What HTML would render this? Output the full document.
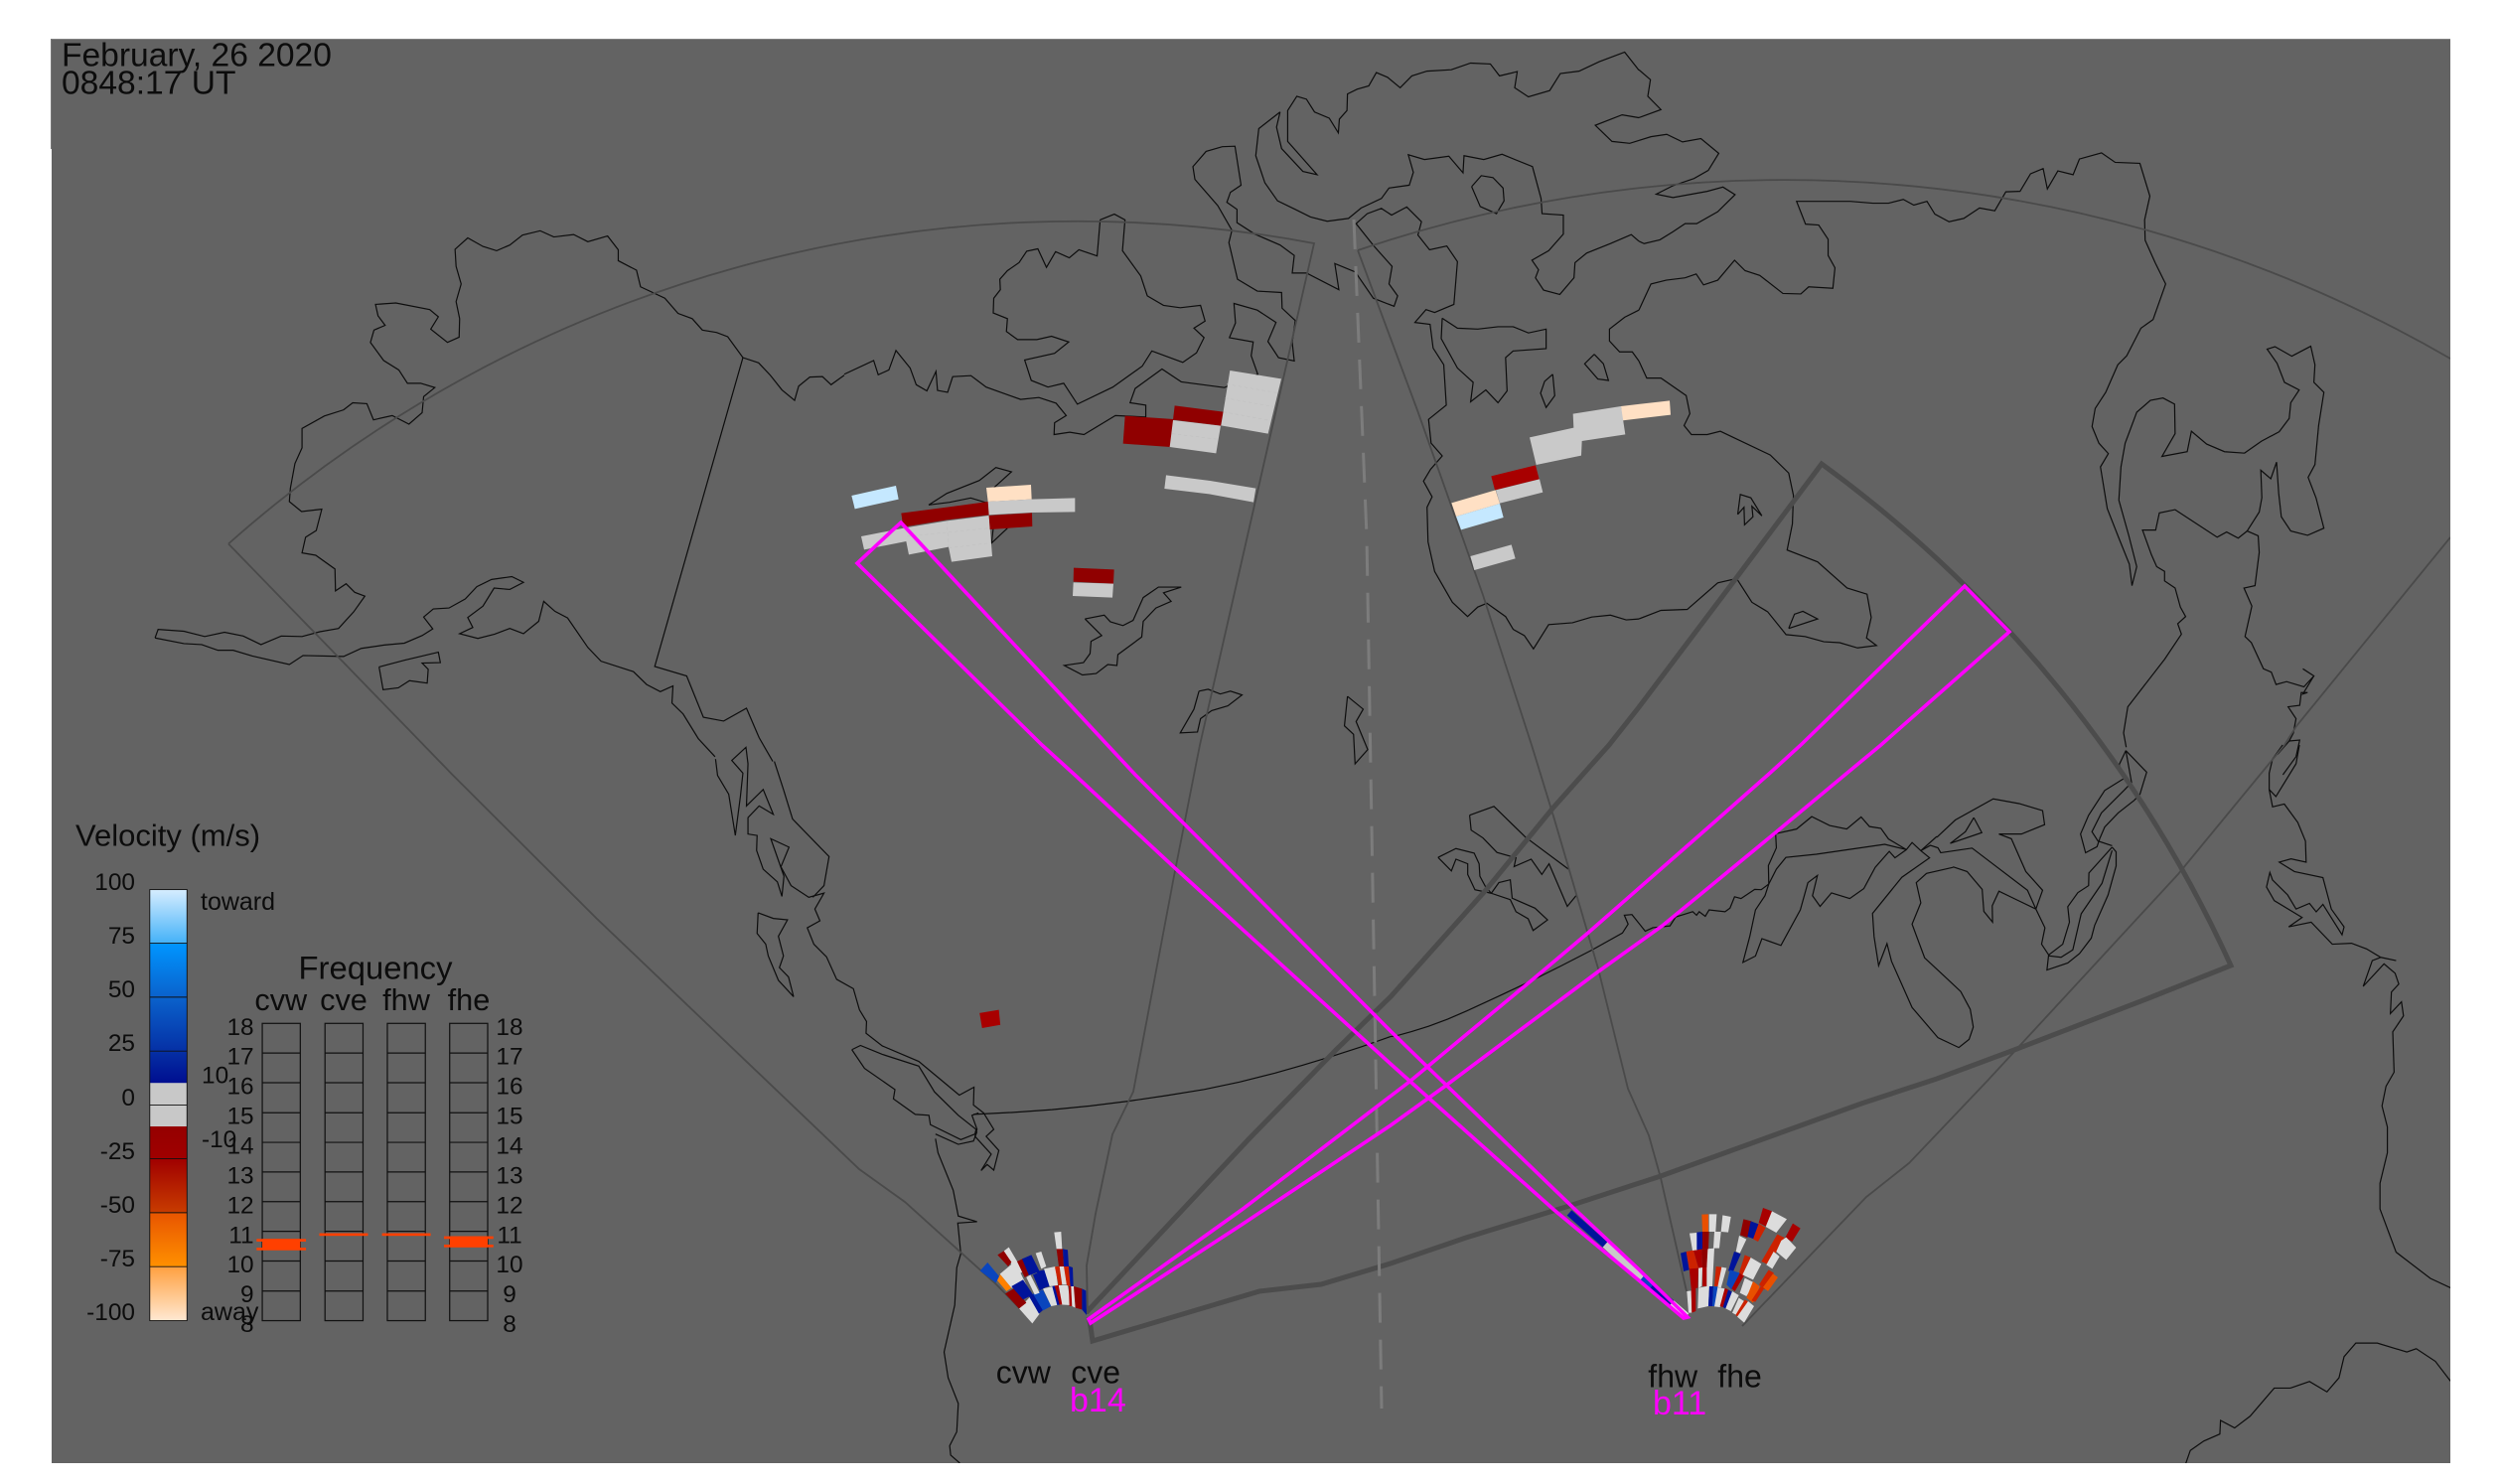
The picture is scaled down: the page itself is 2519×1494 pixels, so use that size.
<!DOCTYPE html>
<html>
<head>
<meta charset="utf-8">
<title>Velocity map</title>
<style>
html,body{margin:0;padding:0;background:#fff;}
svg{display:block;}
text{font-family:"Liberation Sans",sans-serif;fill:#0c0c0c;}
.c polyline{fill:none;stroke:#0d0d0d;stroke-width:1.2;stroke-linejoin:miter;vector-effect:non-scaling-stroke;}
.f polyline,.f path{fill:none;stroke:#4a4a4a;stroke-width:1.8;}
.t path{fill:none;stroke:#4c4c4c;stroke-width:5;}
.g{fill:#c9c9c9}.gl{fill:#dcdcdc}.r{fill:#900000}.r2{fill:#a80000}.o{fill:#cc2200}.or{fill:#e85000}.oo{fill:#ff8000}
.n{fill:#00149a}.b{fill:#0a45bd}.p{fill:#ffe0c4}.lb{fill:#c5e8ff}
.ln{font-size:24.4px;}
</style>
</head>
<body>
<svg width="2519" height="1494" viewBox="0 0 2519 1494" xmlns="http://www.w3.org/2000/svg">
<defs>
<clipPath id="pc"><rect x="52" y="39" width="2415" height="1434"/></clipPath>
<linearGradient id="cb" gradientUnits="userSpaceOnUse" x1="0" y1="302" x2="0" y2="1436">
<stop offset="0" stop-color="#d6edff"/>
<stop offset="0.124" stop-color="#45b2f8"/>
<stop offset="0.125" stop-color="#0095ff"/>
<stop offset="0.25" stop-color="#0a62cc"/>
<stop offset="0.375" stop-color="#0530a5"/>
<stop offset="0.448" stop-color="#000e90"/>
<stop offset="0.449" stop-color="#c8c8c8"/>
<stop offset="0.549" stop-color="#c8c8c8"/>
<stop offset="0.55" stop-color="#950000"/>
<stop offset="0.625" stop-color="#a00000"/>
<stop offset="0.749" stop-color="#c83c00"/>
<stop offset="0.75" stop-color="#e85500"/>
<stop offset="0.874" stop-color="#ff9000"/>
<stop offset="0.875" stop-color="#ffa040"/>
<stop offset="1" stop-color="#ffe8d2"/>
</linearGradient>
</defs>
<rect x="0" y="0" width="2519" height="1494" fill="#fff"/>
<rect x="52" y="39" width="2415" height="1434" fill="#636363"/>
<rect x="51" y="39" width="1" height="111" fill="#777"/>
<rect x="52" y="39" width="2415" height="1" fill="#808080"/>

<g clip-path="url(#pc)">
<!-- coastlines -->
<g class="c" transform="translate(50,30) scale(.5102,.4783)">
<polyline points="208,1280 214,1262 265,1266 306,1277 345,1268 382,1276 417,1294 457,1276 498,1277 533,1267 570,1260 600,1225 622,1192 602,1184 585,1166 564,1181 563,1135 525,1106 498,1101 505,1068 526,1054 537,1009 497,1014 473,993 475,965 484,913 498,880 498,839 542,813 580,800 598,785 626,787 639,821 676,812 709,830 735,806 738,772 760,753 732,744 706,744 689,716 659,696 633,658 640,632 662,622 648,602 643,578 683,575 750,589 767,604 752,630 785,658 808,647 809,608 802,572 812,535 802,498 800,462 825,438 855,456 882,465 908,453 933,432 968,423 995,436 1034,431 1062,446 1101,434 1122,463 1122,486 1158,506 1166,541 1214,565 1240,597 1268,608 1288,632 1316,637 1338,646 1368,690 1399,701 1422,727 1445,758 1470,780 1478,750 1500,731 1525,730 1542,747 1568,727"/>
<polyline points="208,1280 265,1292 300,1294 332,1306 362,1306 400,1318 473,1336 500,1317 580,1319 615,1302 660,1295 700,1291 735,1275 756,1261 738,1236 757,1219 788,1217 820,1198 843,1172 872,1157 912,1151 935,1163 908,1178 877,1175 855,1213 825,1237 835,1258 809,1271 845,1281 878,1272 908,1260 935,1271 965,1245 975,1203 997,1224 1022,1238 1062,1300 1088,1329 1152,1351 1178,1378 1205,1393 1230,1381 1228,1417 1250,1440 1280,1492 1313,1530"/>
<polyline points="650,1341 700,1327 767,1310 771,1332 735,1333 747,1346 745,1375 710,1370 688,1385 658,1389 650,1341"/>
<polyline points="1368,690 1194,1340 1257,1360 1290,1447 1330,1455 1375,1428 1400,1490 1427,1540"/>
</g>
<g class="c" transform="translate(850,30) scale(.5102,.4783)">
<polyline points="0,725 58,696 67,726 88,716 102,675 130,712 142,747 163,760 181,719 184,759 204,763 214,730 250,728 280,752 348,778 384,774 418,786 438,812 415,827 414,852 445,847 473,852 535,812 595,815 595,790 564,785 574,755 627,714 665,741 750,753 816,725 803,686 807,657 760,648 772,617 769,576 815,590 852,616 836,656 857,690 888,697 884,658 890,612 864,586 863,553 815,550 776,525 759,448 765,422 737,370 692,315 688,288 714,256 746,246 771,245 783,327 762,342 755,363 775,378 775,406 810,430 860,453 888,475 884,512 912,512 976,547 968,492 1009,510 1015,520 1044,565 1085,582 1092,560 1075,535 1081,498 1045,455 1010,408 1032,387 1060,376 1080,390 1110,373 1139,404 1132,432 1155,463 1189,455 1210,488 1203,578 1165,595 1148,589 1126,616 1156,620 1162,670 1183,705 1188,790 1153,820 1158,870 1180,897 1157,925 1143,950 1160,983 1150,1005 1152,1078 1165,1140 1200,1205 1230,1235 1250,1215 1268,1207 1305,1235 1320,1262 1342,1275 1360,1303 1390,1252 1437,1248 1475,1236 1512,1232 1543,1242 1568,1240"/>
<polyline points="505,400 533,388 554,400 549,465 585,518 598,560 630,580 663,585 703,580 712,613 690,628 710,648 695,680 668,700 607,676 588,708 530,752 460,788 433,744 402,752 369,738 356,695 415,681 443,657 409,645 380,652 342,652 320,635 322,608 294,596 295,565 308,547 307,525 322,507 345,490 360,466 382,461 399,500 417,467 444,480 463,463 499,476 505,400"/>
<polyline points="860,173 818,208 812,265 830,322 855,360 890,378 920,394 953,403 995,397 1020,375 1060,355 1075,333 1115,327 1123,300 1113,263 1145,273 1193,266 1221,301 1223,265 1262,273 1298,262 1358,288 1375,355 1377,387 1419,390 1419,430 1390,465 1357,485 1370,505 1364,522 1380,548 1412,557 1440,522 1442,490 1465,470 1512,450 1553,431 1568,445"/>
<polyline points="860,173 853,205 863,250 905,298 933,305 875,235 875,170 893,140 912,146 928,173 957,186 975,217 977,188 992,170 993,135 1012,125 1035,118 1050,90 1072,100 1097,122 1120,97 1150,87 1198,84 1236,70 1275,72 1293,97 1328,88 1323,122 1350,141 1392,128 1413,92 1450,87 1490,67 1540,47 1568,85"/>
<polyline points="1568,185 1535,179 1482,201 1515,235 1550,239 1568,233"/>
<polyline points="1238,330 1257,307 1280,311 1300,333 1302,360 1287,387 1255,372 1238,330"/>
<polyline points="1180,607 1210,628 1250,630 1290,625 1320,625 1350,638 1385,630 1385,671 1320,676 1305,690 1308,760 1290,785 1266,758 1236,783 1241,742 1210,712 1178,650 1180,607"/>
<polyline points="1398,725 1402,770 1385,795 1374,765 1382,740 1398,725"/>
<polyline points="1480,683 1498,703 1508,738 1487,735 1461,703 1480,683"/>
<polyline points="1568,590 1540,605 1510,630 1510,655 1530,678 1555,678 1568,697"/>
<polyline points="475,1240 513,1232 525,1246 550,1254 570,1243 590,1195 620,1173 665,1173 630,1185 645,1203 615,1217 590,1245 587,1278 540,1315 538,1338 520,1336 497,1355 470,1358 434,1338 472,1332 485,1313 487,1287 508,1275 475,1240"/>
<polyline points="700,1392 718,1388 742,1398 762,1392 785,1400 757,1423 725,1433 703,1450 697,1478 663,1480 690,1430 700,1392"/>
<polyline points="993,1403 1024,1430 1010,1456 1033,1515 1008,1545 1005,1483 987,1465 993,1403"/>
</g>
<g class="c" transform="translate(820,340) scale(.33333)">
<polyline points="345,505 400,470 498,431 548,392 595,405 545,450 525,470"/>
<polyline points="345,505 408,497 472,484 525,500"/>
<polyline points="583,575 535,620 540,575"/>
</g>
<g class="c" transform="translate(1650,30) scale(.5293,.4783)">
<polyline points="0,1240 42,1222 92,1220 150,1164 186,1155 215,1205 245,1225 280,1273 316,1277 352,1288 382,1290 416,1301 452,1296 433,1280 442,1237 434,1188 396,1175 340,1120 282,1095 292,1040 294,980 285,933 250,895 155,845 130,852 100,852 86,833 97,808 90,770 42,733 15,733 0,697"/>
<polyline points="0,590 23,535 52,527 88,522 109,514 123,537 150,527 182,485 202,507 230,517 274,555 308,556 323,541 369,544 373,501 360,475 360,441 342,411 317,409 300,361 402,361 445,365 475,365 503,357 523,369 548,361 563,388 590,404 618,397 648,375 677,381 698,341 725,340 745,303 769,292 777,335 797,297 826,305 838,272 880,259 906,279 953,281 972,350 962,400 963,443 982,490 1002,535 978,610 955,628 928,686 911,705 888,763 868,797 862,835 875,870 893,892 878,920 891,1008 913,1070 933,1125 938,1170 947,1130 932,1065 913,990 917,920 925,870 947,805 973,780 997,775 1019,788 1020,850 995,898 1043,888 1051,845 1080,872 1114,888 1152,891 1184,866 1218,846 1237,818 1240,785 1256,758 1228,742 1214,702 1195,672 1210,667 1242,687 1278,666 1286,705 1284,742 1303,763 1293,833 1286,915 1273,942 1288,985 1303,1049 1272,1064 1240,1055 1222,1025 1217,975 1213,910 1202,945 1183,927 1185,985 1180,1015 1157,1055 1178,1065 1180,1100 1172,1170 1151,1175 1166,1213 1153,1277 1165,1290 1188,1345 1203,1352 1212,1378 1232,1372 1265,1383 1284,1360 1263,1345"/>
<polyline points="1284,1360 1263,1398 1272,1395 1260,1395 1257,1422 1235,1425 1250,1450 1245,1480 1237,1497 1215,1525"/>
<polyline points="1237,1497 1257,1495 1250,1530 1225,1568"/>
<polyline points="1157,1055 1140,1070 1118,1057 1100,1068 1020,1010 990,1017 983,1053 958,1053 975,1105 985,1130 1000,1140 1000,1160 1020,1175 1030,1215 1040,1235 1025,1250 1032,1272 1000,1325 930,1425 922,1480 927,1510"/>
<polyline points="188,1020 193,978 213,985 234,1023 215,1003 217,1025 201,1042 200,1005 188,1020"/>
<polyline points="285,1260 296,1230 312,1224 340,1240 285,1260"/>
<polyline points="0,84 22,105 17,140 42,168 0,185"/>
<polyline points="0,233 23,225 53,220 83,236 118,229 152,260 132,296 105,313 65,328 33,346 65,353 130,340 160,331 183,347 150,383 110,408 88,408 65,425 40,442 10,450 0,445"/>
</g>
<g class="c" transform="translate(600,750) scale(.5102,.4719)">
<polyline points="236,30 240,65 262,105 275,193 285,110 290,60 268,33 296,5 300,40 297,130 330,95 350,148 322,130 300,155 300,190 318,193 317,225 330,265 358,292 367,323 371,280 345,200 381,218 365,260 385,300 420,325 450,316 432,350 442,375 417,390 430,425 455,452 475,500 508,520 520,565 534,590 533,615 565,642 637,675 717,747 746,730 745,768 765,785 785,820 770,835 795,865 785,907 772,895 760,908 780,873 748,835 752,820 742,790 755,785"/>
<polyline points="352,35 370,95 388,158 460,238 450,300 428,325"/>
<polyline points="320,358 350,370 378,373 360,408 370,450 362,475 380,495 390,537 360,502 340,450 335,425 318,402 320,358"/>
<polyline points="505,650 522,641 565,660 637,685 668,740 715,790 750,820 748,830 720,842 660,810 657,790 630,788 587,755 590,735 530,690 505,650"/>
<polyline points="670,830 715,852 745,845 752,825"/>
<polyline points="670,840 675,870 705,950 715,1005 752,1017 714,1020 720,1085 712,1115 708,1195 687,1295 695,1350 715,1405 712,1465 698,1495 700,1515 718,1532"/>
<polyline points="745,788 820,784 900,778 975,770 1050,760 1125,748 1200,735 1270,719 1340,700 1395,683 1450,665 1510,644 1568,622"/>
</g>
<g class="c" transform="translate(1400,750) scale(.3827,.3571)">
<polyline points="0,822 15,820 55,808 100,793 150,773 200,750 285,708 370,665 450,622 530,578 610,530 625,505 615,480 635,478 670,525 690,515 735,510 750,485 795,470 805,480 812,470 828,483 838,465 880,470 893,460 905,428 922,433 958,407 975,408 995,392 1015,350 1040,317 1120,308 1300,280 1357,295"/>
<polyline points="1013,250 1068,237 1108,202 1155,227 1200,237 1238,203 1260,230 1290,235 1310,265 1357,295 1372,275 1395,298 1418,318 1345,373 1268,475 1272,540 1284,622 1306,560 1318,610 1372,740 1440,825 1495,853 1522,830 1533,795 1525,745 1500,695 1455,650 1405,600 1372,505 1395,445 1383,388 1410,362 1480,345"/>
<polyline points="1013,250 1015,290 994,340 995,392 985,425 960,465 945,540 927,613 960,595 977,546 1027,565 1078,465 1098,388 1123,368 1110,425 1130,455 1160,417 1208,433 1245,405 1275,345 1312,300 1327,318 1357,295"/>
<polyline points="1395,298 1437,258"/>
<polyline points="1395,298 1420,283 1440,290 1447,303"/>
<polyline points="208,198 272,173 355,260 468,350"/>
<polyline points="208,198 212,240 243,262 280,303 330,318 325,343 370,322 398,365 417,335 465,455 488,425"/>
<polyline points="125,317 172,292 220,305 233,335 235,370 250,400 265,418 315,436 330,470 362,490 375,523 413,493 380,460 320,432 315,380 285,388 265,418 222,408 203,365 203,335 172,322 160,355 125,317"/>
</g>
<g class="c" transform="translate(1950,750) scale(.338,.4719)">
<polyline points="0,197 55,160 168,115 245,125 315,140 321,170 252,190 185,190 222,200 265,270 315,310 295,350 185,312 165,343 166,378 140,355 135,308 90,270 48,260"/>
<polyline points="110,155 134,187 40,210 85,185 110,155"/>
<polyline points="10,230 105,220 270,310 295,350 322,390 312,425 335,450 370,453 405,437 430,360 492,295 522,225"/>
<polyline points="563,12 580,80 560,95 490,145 462,185 480,205 522,215"/>
<polyline points="563,12 543,42 556,72 500,97 452,150 428,190 443,230 477,217 485,200"/>
<polyline points="563,12 625,58 605,105 588,118 540,145 500,175 485,200"/>
<polyline points="522,218 453,273 452,300 420,315 390,345 395,378 375,425 333,448 328,480 390,465 425,445 460,412 470,385 510,320 534,258 534,228 522,218"/>
<polyline points="1080,0 1070,40 1010,110 990,95 990,60 1000,30 1030,0"/>
<polyline points="990,95 1000,132 1035,126 1075,165 1098,205 1100,250 1055,243 1020,250 1065,270 1150,283 1175,350 1213,388 1207,405 1150,340 1130,356 1110,338 1070,350 1045,320 1000,288 992,272 982,303 1005,332 1088,368 1048,388 1115,378 1178,425 1235,423 1280,435 1322,453 1368,460"/>
<polyline points="1322,453 1297,460 1270,515 1332,467 1365,487 1376,510 1354,527 1351,573 1384,548 1390,578 1358,612 1362,698 1338,728 1326,770 1342,815 1342,870 1320,935 1320,990 1368,1082 1470,1138 1530,1158"/>
<polyline points="738,1540 755,1505 795,1485 843,1470 845,1441 887,1457 933,1432 1005,1372 1053,1372 1110,1358 1162,1380 1198,1350 1213,1305 1248,1276 1312,1276 1400,1295 1428,1288 1485,1315 1530,1357"/>
</g>

<!-- thin fields of view -->
<g class="f">
<path d="M230,547.5 A1287,1287 0 0 1 1323,245 L1208,750 1182,882 1141,1099 1120,1142 1103,1222 1094,1274 1095,1323"/>
<polyline points="230,547.5 455.6,780 600,924 865,1177 911,1210 1003,1293 1040,1331"/>
<path d="M1367,252 A1339,1339 0 0 1 2467,361"/>
<polyline points="1367,252 1427,413 1493,599 1542,750 1565,825 1609,975 1639,1096 1660,1143 1672,1186 1698,1300"/>
<polyline points="1754,1335 1879,1205 1922,1171 2000,1089 2193,880 2300,750 2312,731 2467,541"/>
</g>
<!-- thick field of view -->
<g class="t">
<path d="M1094,1321 L1258,1146 1345,1057 1400,1003.5 1496,896 1563,814 1620,750 1650,712 1748,582 1834,467 A1283,1283 0 0 1 2246,972 L2163,1005 2028,1057 1950,1086 1874,1111 1672,1184 1580,1214 1476,1246 1400,1272 1330,1293 1268,1300 1100,1350 1097.6,1333 1096,1326"/>
</g>
<!-- dashed centre line -->
<polyline points="1363,221 1376,540 1391,1418" fill="none" stroke="#7c7c7c" stroke-width="3" stroke-dasharray="30 17"/>

<!-- data patches -->
<g transform="translate(820,340) scale(.33333)">
<polygon class="lb" points="112,477 246,447 254,488 122,517"/>
<polygon class="g" points="141,600 270,575 400,553 527,537 537,660 414,677 405,632 285,655 277,615 150,640"/>
<polygon class="r" points="262,530 400,512 525,495 527,535 400,550 268,572"/>
<polygon class="p" points="519,453 654,444 656,488 524,495"/>
<polygon class="g" points="524,495 655,488 787,484 787,526 657,528 527,535"/>
<polygon class="r" points="527,537 657,529 658,570 530,579"/>
<polygon class="r" points="783,695 905,700 903,743 782,737"/>
<polygon class="g" points="782,739 903,743 900,785 780,780"/>
<polygon class="g" points="1062,415 1195,432 1333,455 1326,497 1192,472 1057,456"/>
<polygon class="r" points="938,236 1085,246 1074,330 932,320"/>
<polygon class="r" points="1088,205 1235,224 1227,266 1083,248"/>
<polygon class="g" points="1083,249 1227,266 1213,349 1073,330"/>
<polygon class="g" points="1255,99 1410,124 1370,290 1228,265"/>
<g fill="none" stroke="#bcbcbc" stroke-width="1.2" stroke-dasharray="10 8">
<polyline points="1245,140 1396,166"/><polyline points="1240,182 1385,208"/><polyline points="1235,224 1375,250"/><polyline points="1080,290 1220,307"/><polyline points="280,600 530,575"/><polyline points="405,635 530,620"/><polyline points="400,553 405,632"/>
</g>
</g>
<g transform="translate(1420,380) scale(.33333)">
<polygon class="p" points="636,87 783,70 786,113 640,130"/>
<polygon class="g" points="491,110 636,87 649,172 518,192 516,236 380,264 360,181 493,152"/>
<polygon class="r2" points="244,298 378,265 389,307 255,340"/>
<polygon class="g" points="258,340 390,307 400,347 270,380"/>
<polygon class="p" points="124,379 257,340 270,381 138,420"/>
<polygon class="lb" points="138,420 270,381 281,423 153,460"/>
<polygon class="g" points="181,540 305,505 317,547 193,582"/>
</g>
<g transform="translate(600,750) scale(.5102,.4719)">
<polygon class="r2" points="757,572 795,565 798,597 762,604"/>
</g>

<!-- cvw / cve fan -->
<g transform="translate(950,1180) scale(.33333)">
<polygon class="gl" points="268,457 228,412 260,378 290,428"/>
<polygon class="n" points="258,375 272,368 302,415 288,428"/>
<polygon class="b" points="270,368 300,355 325,405 300,418"/>
<polygon class="gl" points="300,352 330,345 350,400 325,405"/>
<polygon class="n" points="328,345 340,342 352,400 343,402"/>
<polygon class="gl" points="340,342 375,342 385,402 352,400"/>
<polygon class="r2" points="335,342 347,340 358,400 350,400"/>
<polygon class="r2" points="378,345 385,345 388,405 380,405"/>
<polygon class="gl" points="385,345 395,345 398,410 388,405"/>
<polygon class="r" points="393,345 418,352 418,415 398,410"/>
<polygon class="n" points="418,352 430,358 432,432 418,415"/>
<polygon class="r" points="186,367 215,350 250,395 228,412"/>
<polygon class="gl" points="170,308 215,270 250,340 205,350"/>
<polygon class="n" points="205,345 240,325 270,370 240,385"/>
<polygon class="oo" points="158,322 172,310 205,350 190,360"/>
<polygon class="b" points="110,298 133,273 168,315 158,335"/>
<polygon class="gl" points="180,240 197,227 240,300 225,310"/>
<polygon class="r" points="163,250 182,238 205,272 195,285"/>
<polygon class="r" points="222,270 238,262 258,310 245,318"/>
<polygon class="n" points="237,262 265,250 290,300 258,312"/>
<polygon class="gl" points="278,245 295,240 310,285 295,292"/>
<polygon class="gl" points="250,318 262,310 290,365 275,370"/>
<polygon class="n" points="270,310 282,305 305,350 290,358"/>
<polygon class="n" points="280,300 305,295 320,345 302,350"/>
<polygon class="gl" points="303,292 338,285 345,342 320,345"/>
<polygon class="o" points="336,286 350,284 358,340 347,342"/>
<polygon class="gl" points="350,284 365,284 372,340 358,340"/>
<polygon class="o" points="363,284 378,284 383,345 372,342"/>
<polygon class="n" points="378,284 390,288 392,345 383,345"/>
<polygon class="r" points="341,232 360,232 363,285 348,285"/>
<polygon class="n" points="360,232 375,235 378,285 363,285"/>
<polygon class="gl" points="334,182 355,180 358,232 341,232"/>
</g>

<!-- fhw / fhe fan -->
<g transform="translate(1650,1180) scale(.33333)">
<polygon class="gl" points="145,360 158,358 160,425 150,425"/>
<polygon class="r2" points="158,352 172,350 172,420 160,425"/>
<polygon class="gl" points="180,350 213,343 210,405 178,412"/>
<polygon class="n" points="213,343 225,345 222,405 210,405"/>
<polygon class="b" points="225,345 238,347 232,405 222,405"/>
<polygon class="gl" points="238,348 260,352 245,408 228,406"/>
<polygon class="r2" points="260,350 270,355 255,408 245,405"/>
<polygon class="n" points="270,355 282,362 262,412 254,408"/>
<polygon class="gl" points="282,360 302,372 278,420 262,412"/>
<polygon class="gl" points="302,380 318,390 295,432 282,425"/>
<polygon class="o" points="320,385 332,392 300,437 292,432"/>
<polygon class="gl" points="330,390 348,405 318,455 297,437"/>
<polygon class="r2" points="152,290 180,290 178,350 158,352"/>
<polygon class="gl" points="180,288 192,288 190,345 180,350"/>
<polygon class="r2" points="192,288 205,288 205,345 192,345"/>
<polygon class="gl" points="205,232 228,230 222,345 205,345"/>
<polygon class="n" points="126,245 143,240 152,295 135,300"/>
<polygon class="o" points="143,240 165,236 180,290 152,292"/>
<polygon class="r2" points="165,236 190,232 192,288 180,290"/>
<polygon class="r" points="190,232 208,232 205,288 192,288"/>
<polygon class="gl" points="153,185 175,183 177,235 162,237"/>
<polygon class="n" points="175,182 192,180 192,232 175,235"/>
<polygon class="r" points="192,180 212,180 210,232 192,232"/>
<polygon class="gl" points="228,180 248,180 243,230 225,230"/>
<polygon class="or" points="190,128 210,127 210,180 192,180"/>
<polygon class="gl" points="212,127 235,127 232,180 212,180"/>
<polygon class="gl" points="253,130 278,135 270,182 248,180"/>
<polygon class="o" points="233,285 250,287 240,345 228,345"/>
<polygon class="gl" points="250,287 265,290 248,350 238,347"/>
<polygon class="n" points="288,240 308,247 285,300 270,298"/>
<polygon class="b" points="275,295 305,305 280,355 265,340"/>
<polygon class="r2" points="305,305 318,312 290,360 280,352"/>
<polygon class="gl" points="303,192 325,203 305,245 293,240"/>
<polygon class="r" points="316,142 340,148 328,198 306,190"/>
<polygon class="n" points="338,148 362,157 348,202 328,195"/>
<polygon class="o" points="362,155 383,168 360,210 345,202"/>
<polygon class="r2" points="375,108 402,118 385,165 362,153"/>
<polygon class="gl" points="402,118 447,142 415,183 383,165"/>
<polygon class="o" points="320,250 338,258 313,312 303,303"/>
<polygon class="gl" points="338,258 370,277 345,325 313,310"/>
<polygon class="gl" points="320,320 350,335 325,375 305,365"/>
<polygon class="or" points="345,330 365,345 345,395 325,380"/>
<polygon class="o" points="368,345 378,352 352,392 340,388"/>
<polygon class="o" points="392,295 408,305 380,355 363,340"/>
<polygon class="or" points="405,307 420,318 390,360 375,348"/>
<polygon class="o" points="418,188 440,198 393,280 370,270"/>
<polygon class="r2" points="465,155 488,170 463,210 442,198"/>
<polygon class="gl" points="430,207 445,197 475,228 445,265 415,240"/>
<polygon class="gl" points="407,240 425,255 403,292 385,280"/>
</g>

<!-- beam data strip -->
<polyline points="1580,1221 1616,1253" fill="none" stroke="#00149a" stroke-width="7"/>
<polyline points="1616,1253 1653,1287" fill="none" stroke="#c9c9c9" stroke-width="7"/>
<polyline points="1653,1287 1663,1295" fill="none" stroke="#0a45bd" stroke-width="7"/>
<polyline points="1663,1295 1683,1312" fill="none" stroke="#00149a" stroke-width="7"/>
<polyline points="1683,1312 1698,1325" fill="none" stroke="#dcdcdc" stroke-width="7"/>

<!-- magenta beams -->
<polygon points="907,526 1115,750 1143,780 1400,1038 1436,1073 1582,1214 1650,1278 1699,1326 1695,1327 1650,1289 1564.6,1218 1438,1105 1400,1071 1181.6,872.7 1082,780 1049,750 863,567" fill="none" stroke="#ff00ff" stroke-width="3.6"/>
<polygon points="1978,590 1813,750 1780,780 1725,828.5 1599,939 1543.5,985.7 1419,1089 1400,1103.5 1250,1218 1096,1328 1098,1332 1250,1233 1400,1133 1455.5,1093 1608.6,978.5 1673.6,932 1788.4,837.5 1857.5,780 1893.7,750 2023,636" fill="none" stroke="#ff00ff" stroke-width="3.6"/>
</g>

<!-- title -->
<text x="62" y="66.7" font-size="33.6">February, 26 2020</text>
<text x="62" y="94.7" font-size="33.6">0848:17 UT</text>

<!-- velocity legend -->
<text x="76" y="851.5" font-size="31">Velocity (m/s)</text>
<g transform="translate(0,780) scale(.3827)">
<rect x="394" y="302" width="98" height="1134" fill="url(#cb)" stroke="#111" stroke-width="2.4"/>
<g stroke="#111" stroke-width="2.4">
<line x1="394" y1="443" x2="492" y2="443"/><line x1="394" y1="585" x2="492" y2="585"/><line x1="394" y1="727" x2="492" y2="727"/><line x1="394" y1="869" x2="492" y2="869"/><line x1="394" y1="1010" x2="492" y2="1010"/><line x1="394" y1="1152" x2="492" y2="1152"/><line x1="394" y1="1294" x2="492" y2="1294"/>
</g>
<!-- frequency boxes -->
<g fill="none" stroke="#111" stroke-width="3.2">
<rect x="690" y="654" width="100" height="782"/><rect x="855" y="654" width="100" height="782"/><rect x="1019" y="654" width="100" height="782"/><rect x="1183" y="654" width="100" height="782"/>
<path d="M690 732H790M855 732H955M1019 732H1119M1183 732H1283M690 810H790M855 810H955M1019 810H1119M1183 810H1283M690 889H790M855 889H955M1019 889H1119M1183 889H1283M690 967H790M855 967H955M1019 967H1119M1183 967H1283M690 1045H790M855 1045H955M1019 1045H1119M1183 1045H1283M690 1123H790M855 1123H955M1019 1123H1119M1183 1123H1283M690 1201H790M855 1201H955M1019 1201H1119M1183 1201H1283M690 1279H790M855 1279H955M1019 1279H1119M1183 1279H1283M690 1358H790M855 1358H955M1019 1358H1119M1183 1358H1283"/>
</g>
<g fill="#ff4000">
<rect x="690" y="1221" width="100" height="29"/><rect x="675" y="1221" width="130" height="7"/><rect x="675" y="1244" width="130" height="7"/>
<rect x="840" y="1206" width="128" height="7"/>
<rect x="1005" y="1206" width="128" height="7"/>
<rect x="1183" y="1214" width="100" height="29"/><rect x="1168" y="1214" width="130" height="7"/><rect x="1168" y="1236" width="130" height="7"/>
</g>
</g>
<g class="ln" text-anchor="end">
<text x="136" y="896">100</text><text x="136" y="950">75</text><text x="136" y="1004">50</text><text x="136" y="1058">25</text><text x="136" y="1113">0</text><text x="136" y="1167">-25</text><text x="136" y="1221">-50</text><text x="136" y="1275">-75</text><text x="136" y="1329">-100</text>
</g>
<text x="202" y="916" font-size="25">toward</text>
<text x="202" y="1329" font-size="25">away</text>
<text x="203" y="1090.7" font-size="24.4">10</text>
<text x="203" y="1155" font-size="24.4">-10</text>

<text x="378" y="985.5" font-size="32.8" text-anchor="middle">Frequency</text>
<g font-size="30.7" text-anchor="middle">
<text x="282.8" y="1017">cvw</text><text x="346" y="1017">cve</text><text x="409" y="1017">fhw</text><text x="472" y="1017">fhe</text>
</g>
<g class="ln" text-anchor="end">
<text x="255.6" y="1041.8">18</text><text x="255.6" y="1071.7">17</text><text x="255.6" y="1101.6">16</text><text x="255.6" y="1131.6">15</text><text x="255.6" y="1161.5">14</text><text x="255.6" y="1191.4">13</text><text x="255.6" y="1221.3">12</text><text x="255.6" y="1251.3">11</text><text x="255.6" y="1281.2">10</text><text x="255.6" y="1311.1">9</text><text x="255.6" y="1341">8</text>
</g>
<g class="ln" text-anchor="middle">
<text x="513" y="1041.8">18</text><text x="513" y="1071.7">17</text><text x="513" y="1101.6">16</text><text x="513" y="1131.6">15</text><text x="513" y="1161.5">14</text><text x="513" y="1191.4">13</text><text x="513" y="1221.3">12</text><text x="513" y="1251.3">11</text><text x="513" y="1281.2">10</text><text x="513" y="1311.1">9</text><text x="513" y="1341">8</text>
</g>

<!-- site labels -->
<g font-size="32" style="fill:#000">
<text x="1002.7" y="1392.5">cvw</text><text x="1078.3" y="1392.5">cve</text>
<text x="1659.3" y="1396.5">fhw</text><text x="1729.3" y="1396.5">fhe</text>
</g>
<text x="1077" y="1421" font-size="34" style="fill:#ff00ff">b14</text>
<text x="1664" y="1424" font-size="34" style="fill:#ff00ff">b11</text>
</svg>
</body>
</html>
